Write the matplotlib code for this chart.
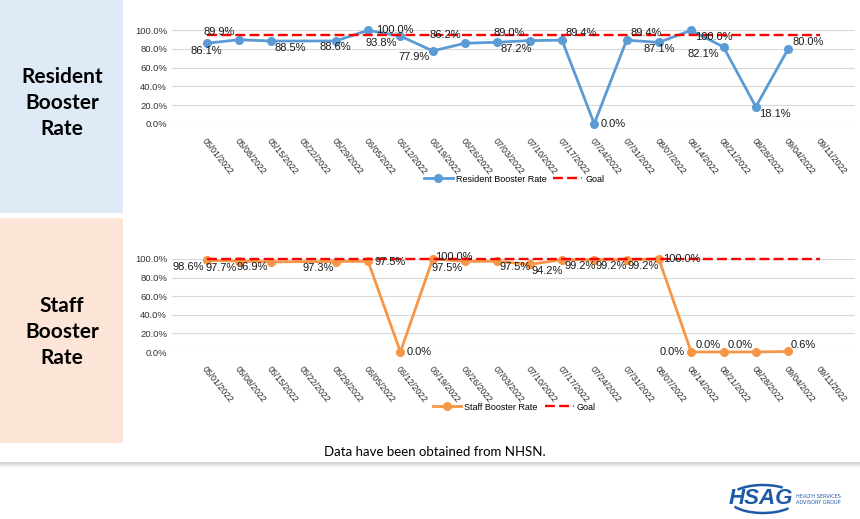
import matplotlib
matplotlib.use('Agg')
import matplotlib.pyplot as plt
import numpy as np
from matplotlib.patches import Rectangle, Arc
import matplotlib.transforms as mtransforms

# ---------------- data ----------------
dates = ['05/01/2022', '05/08/2022', '05/15/2022', '05/22/2022', '05/29/2022',
         '06/05/2022', '06/12/2022', '06/19/2022', '06/26/2022', '07/03/2022',
         '07/10/2022', '07/17/2022', '07/24/2022', '07/31/2022', '08/07/2022',
         '08/14/2022', '08/21/2022', '08/28/2022', '09/04/2022', '09/11/2022']
resident_rate = [86.1, 89.9, 88.5, None, 88.6, 100.0, 93.8, 77.9, 86.2, 87.2,
                 89.0, 89.4, 0.0, 89.4, 87.1, 100.0, 82.1, 18.1, 80.0]
staff_rate = [98.6, 97.7, 96.9, None, 97.3, 97.5, 0.0, 100.0, 97.5, 97.5,
              94.2, 99.2, 99.2, 99.2, 100.0, 0.0, 0.0, 0.0, 0.6]
resident_goal = 95.0
staff_goal = 100.0
y_ticks = [0, 20, 40, 60, 80, 100]

# label offsets in pixels (dx right, dy down) for each data label
res_offsets = [(0, 7.5), (-20, -7.3), (19, 6.5), None, (0, 6.5), (27, 0), (-19, 7),
               (-19, 6.5), (-19.5, -8), (19, 6.7), (-20, -7.3), (19, -7.3), (19, 0),
               (19.4, -7.3), (0, 6.7), (23, 6.7), (-20, 6.5), (19, 7), (20, -7)]
staff_offsets = [(-18, 7), (-18, 6.5), (-19, 5.5), None, (-18, 6), (22, 0.7), (19, 0),
                 (21, -2), (-18.3, 6.7), (17.3, 6), (17.7, 6.5), (17.8, 6.6), (16.8, 6.6),
                 (17, 6.6), (23, 0), (-19, 0), (-15.5, -6.5), (-16, -6.5), (15.5, -6.5)]

W, H = 860, 519
fig = plt.figure(figsize=(W / 100, H / 100), dpi=100)
fig.patch.set_facecolor('white')

def fx(px):
    return px / W

def fy(py):
    return 1 - py / H

# ---------------- side panels ----------------
bg = fig.add_axes([0, 0, 1, 1], zorder=-10)
bg.axis('off')
bg.add_patch(Rectangle((0, 0), 123, 213, facecolor='#DEEAF6', edgecolor='none'))
bg.add_patch(Rectangle((0, 218), 123, 225, facecolor='#FCE5D6', edgecolor='none'))
bg.text(62, 103, 'Resident\nBooster\nRate', ha='center', va='center', fontsize=15,
        fontweight='bold', family='Lato', linespacing=1.35, color='black')
bg.text(62, 332, 'Staff\nBooster\nRate', ha='center', va='center', fontsize=15,
        fontweight='bold', family='Lato', linespacing=1.35, color='black')
bg.text(435, 452, 'Data have been obtained from NHSN.', ha='center', va='center',
        fontsize=9.5, family='Lato', color='black')
# gradient bar
grad = np.linspace(0, 1, 20).reshape(-1, 1)
bg.imshow(grad, extent=(0, W, 468, 462), cmap=matplotlib.colors.LinearSegmentedColormap.from_list(
    'g', ['#C9CED5', '#FFFFFF']), aspect='auto', zorder=1)
bg.set_xlim(0, W)
bg.set_ylim(H, 0)
# logo
logo_c = '#1F5AA6'
bg.text(761, 499, 'HSAG', ha='center', va='center', fontsize=16, fontweight='heavy',
        style='italic', family='Liberation Sans', color=logo_c)
bg.add_patch(Arc((763, 499), 68, 28, theta1=20, theta2=165, color=logo_c, lw=1.8))
bg.add_patch(Arc((763, 499), 68, 28, theta1=200, theta2=330, color=logo_c, lw=1.8))
bg.text(796, 496, 'HEALTH SERVICES', ha='left', va='center', fontsize=3.6,
        family='Liberation Sans Narrow', color=logo_c)
bg.text(796, 503, 'ADVISORY GROUP', ha='left', va='center', fontsize=3.6,
        family='Liberation Sans Narrow', color=logo_c)

x = np.arange(len(dates))


def draw_chart(top_px, bottom_px, rate, goal, offsets, color, name, legend_y):
    ax = fig.add_axes([fx(172), fy(bottom_px), fx(683), (bottom_px - top_px) / H])
    ax.set_xlim(-1.07, len(dates) - 1 + 1.07)
    ax.set_ylim(0, 100)
    for s in ax.spines.values():
        s.set_visible(False)
    ax.set_yticks(y_ticks)
    ax.set_yticklabels([f'{t:.1f}%' for t in y_ticks], fontsize=6.8,
                       family='Liberation Sans', color='#333333')
    ax.yaxis.grid(True, color='#D9D9D9', lw=0.8)
    ax.set_axisbelow(True)
    ax.tick_params(axis='y', length=0, pad=3.5)
    ax.set_xticks(x)
    ax.set_xticklabels(dates, rotation=-51, ha='left', va='top', fontsize=6.3,
                       family='Liberation Sans', color='#262626')
    ax.tick_params(axis='x', length=0, pad=9.0)
    shift = mtransforms.ScaledTranslation(-6 / 100, 0, fig.dpi_scale_trans)
    for lab in ax.get_xticklabels():
        lab.set_transform(lab.get_transform() + shift)

    xs = [xi for xi, v in zip(x, rate) if v is not None]
    vs = [v for v in rate if v is not None]
    ax.plot(xs, vs, color=color, lw=2.0, marker='o', ms=5.5, clip_on=False,
            zorder=3, label=name)
    ax.plot([x[0], x[-1]], [goal, goal], color='#FF0000', lw=1.7,
            dashes=(4.2, 1.8), zorder=4, clip_on=False, label='Goal')
    for xi, v, off in zip(x, rate, offsets):
        if v is None:
            continue
        ax.annotate(f'{v:.1f}%', (xi, v), xytext=(off[0], -off[1]),
                    textcoords='offset pixels', ha='center', va='center',
                    fontsize=8, family='Liberation Sans', color='#1a1a1a', zorder=5)
    fig.legend(*ax.get_legend_handles_labels(), loc='center',
               bbox_to_anchor=(fx(514), fy(legend_y)), ncol=2, frameon=False,
               prop={'family': 'Liberation Sans', 'size': 6.5},
               handlelength=3.2, columnspacing=0.8, handletextpad=0.3)
    return ax


draw_chart(30.3, 123.7, resident_rate, resident_goal, res_offsets, '#5B9BD5',
           'Resident Booster Rate', 179)
draw_chart(259, 352, staff_rate, staff_goal, staff_offsets, '#F79646',
           'Staff Booster Rate', 407)

fig.savefig('out.png', dpi=100, facecolor='white')
